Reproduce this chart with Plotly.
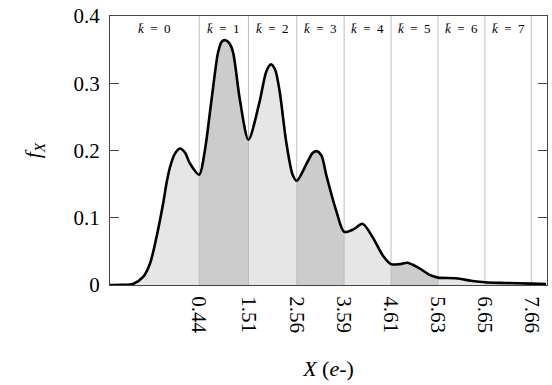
import plotly.graph_objects as go

# curve values
x_vals = [-1.5, -1.25, -1.0, -0.78, -0.63, -0.49, -0.34, -0.27, -0.2, -0.1, 0.02, 0.13, 0.235, 0.44, 0.56,
          0.71, 0.85, 0.93, 1.01, 1.09, 1.175, 1.32, 1.51, 1.75, 1.9, 2.0, 2.09, 2.19, 2.33, 2.47, 2.56,
          2.8, 2.9, 3.0, 3.1, 3.2, 3.42, 3.59, 3.8, 3.99, 4.21, 4.43, 4.61, 4.8, 4.97, 5.22, 5.45, 5.63,
          6.02, 6.38, 6.65, 7.1, 7.66, 7.98]
y_vals = [0.0, 0.0003, 0.0015, 0.012, 0.032, 0.071, 0.123, 0.152, 0.174, 0.194, 0.203, 0.197, 0.181,
          0.164, 0.199, 0.277, 0.346, 0.362, 0.364, 0.360, 0.346, 0.277, 0.216, 0.272, 0.318, 0.328,
          0.320, 0.287, 0.213, 0.164, 0.155, 0.184, 0.196, 0.199, 0.192, 0.164, 0.110, 0.079, 0.083,
          0.091, 0.071, 0.044, 0.031, 0.031, 0.033, 0.025, 0.015, 0.011, 0.010, 0.006, 0.004, 0.003,
          0.002, 0.0015]

thresholds = [0.44, 1.51, 2.56, 3.59, 4.61, 5.63, 6.65, 7.66]
threshold_labels = ["0.44", "1.51", "2.56", "3.59", "4.61", "5.63", "6.65", "7.66"]
band_labels = [f"<i>k\u0304</i>\u2002=\u2002{k}" for k in range(8)]
y_ticks = [0, 0.1, 0.2, 0.3, 0.4]
y_tick_labels = ["0", "0.1", "0.2", "0.3", "0.4"]

X_MIN, X_MAX = -1.5, 8.0
Y_MAX = 0.4
LIGHT, DARK = "#e6e6e6", "#cccccc"
FONT = "'Liberation Serif', 'Times New Roman', 'DejaVu Serif', serif"

fig = go.Figure()

edges = [X_MIN] + thresholds + [X_MAX]
for i in range(len(edges) - 1):
    lo, hi = edges[i], edges[i + 1]
    xs = [x for x in x_vals if lo - 1e-9 <= x <= hi + 1e-9]
    ys = [y for x, y in zip(x_vals, y_vals) if lo - 1e-9 <= x <= hi + 1e-9]
    fig.add_trace(go.Scatter(x=xs, y=ys, mode="lines", line=dict(width=0, shape="spline", smoothing=0.8),
                             fill="tozeroy", fillcolor=LIGHT if i % 2 == 0 else DARK,
                             hoverinfo="skip", showlegend=False))

# vertical grid lines at thresholds
gx, gy = [], []
for t in thresholds:
    gx += [t, t, None]
    gy += [0, Y_MAX, None]
fig.add_trace(go.Scatter(x=gx, y=gy, mode="lines", line=dict(color="#bdbdbd", width=1),
                         hoverinfo="skip", showlegend=False))

fig.add_trace(go.Scatter(x=x_vals, y=y_vals, mode="lines",
                         line=dict(color="black", width=2.6, shape="spline", smoothing=0.8),
                         showlegend=False))

for i, lab in enumerate(band_labels):
    cx = (edges[i] + edges[i + 1]) / 2
    fig.add_annotation(x=cx, y=Y_MAX, xref="x", yref="y", text=lab, showarrow=False,
                       yanchor="top", yshift=-3, font=dict(family=FONT, size=13, color="black"))

fig.update_layout(
    width=552, height=385,
    margin=dict(l=110, r=4, t=13, b=100),
    plot_bgcolor="white", paper_bgcolor="white",
    font=dict(family=FONT, color="black"),
)
fig.update_xaxes(range=[X_MIN, X_MAX], tickmode="array", tickvals=thresholds, ticktext=threshold_labels,
                 tickangle=90, tickfont=dict(family=FONT, size=21), showgrid=False, zeroline=False,
                 showline=True, linecolor="#444", linewidth=1, mirror=True, ticks="",
                 ticklabelstandoff=6,
                 title=dict(text="<i>X</i> (<i>e</i>-)", font=dict(family=FONT, size=22), standoff=28))
fig.update_yaxes(range=[0, Y_MAX], tickmode="array", tickvals=y_ticks, ticktext=y_tick_labels,
                 tickfont=dict(family=FONT, size=21), showgrid=False, zeroline=False,
                 showline=True, linecolor="#444", linewidth=1, mirror="ticks", ticks="inside",
                 ticklen=9, tickcolor="#444", ticklabelstandoff=5,
                 title=dict(text="<i>f</i><sub><i>X</i></sub>", font=dict(family=FONT, size=22), standoff=26))

fig.write_html("out.html")
